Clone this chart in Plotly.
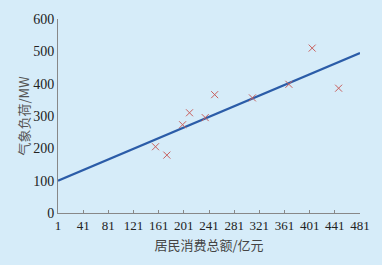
import plotly.graph_objects as go

x_vals = [156, 174, 199, 210, 235, 250, 310, 368, 405, 447]
y_vals = [205, 179, 273, 310, 295, 366, 356, 398, 510, 386]
line_x = [1, 481]
line_y = [100, 495]
x_ticks = [1, 41, 81, 121, 161, 201, 241, 281, 321, 361, 401, 441, 481]
y_ticks = [0, 100, 200, 300, 400, 500, 600]

bg = "#d6ecf9"
fig = go.Figure()
fig.add_trace(go.Scatter(x=line_x, y=line_y, mode="lines",
                         line=dict(color="#2b5ca8", width=2.2), hoverinfo="skip"))
fig.add_trace(go.Scatter(x=x_vals, y=y_vals, mode="markers",
                         marker=dict(symbol="x-thin", size=7, line=dict(color="#c8605e", width=1))))
fig.update_layout(
    width=382, height=265, showlegend=False,
    paper_bgcolor=bg, plot_bgcolor=bg,
    margin=dict(l=58, r=20, t=19, b=52),
    font=dict(family="Liberation Serif, Noto Sans CJK SC", size=13, color="#222"),
    xaxis=dict(range=[1, 481], tickvals=x_ticks, ticktext=[str(v) for v in x_ticks],
               showgrid=False, zeroline=False, showline=True, linecolor="#888", linewidth=1,
               ticks="inside", ticklen=3, tickcolor="#888", tickfont=dict(size=13),
               title=dict(text="居民消费总额/亿元", standoff=9,
                          font=dict(family="Noto Sans CJK SC", size=13, color="#444"))),
    yaxis=dict(range=[0, 600], tickvals=y_ticks, showgrid=False, zeroline=False,
               showline=True, linecolor="#888", linewidth=1,
               ticks="", tickfont=dict(size=14),
               title=dict(text="气象负荷/MW", standoff=0,
                          font=dict(family="Noto Sans CJK SC", size=13, color="#555"))),
)
fig.write_html("out.html", config={"displayModeBar": False},
               post_script="document.body.style.margin='0';document.body.style.background='" + bg + "';")
